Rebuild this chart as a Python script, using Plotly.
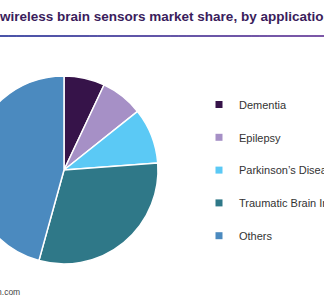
import plotly.graph_objects as go

# ---- data ----
categories = ["Dementia", "Epilepsy", "Parkinson\u2019s Disease", "Traumatic Brain Injury", "Others"]
shares = [7.0, 7.3, 9.5, 30.5, 45.7]
colors = ["#361349", "#a690c6", "#5bc9f5", "#2f7888", "#4b8abf"]
title_text = "U.S. wireless brain sensors market share, by application, 2016 (%)"
source_text = "Source: www.grandviewresearch.com"

W, H = 324, 300
PIE_OFFSET = 30     # the reference pie is cropped by the left window edge

fig = go.Figure()

# pie: radius 94, drawn with its left edge at x=0 then slid left by PIE_OFFSET
r, cy = 94, 170
fig.add_trace(go.Pie(
    labels=categories, values=shares, sort=False, direction="clockwise", rotation=0,
    marker=dict(colors=colors, line=dict(color="white", width=1.5)),
    textinfo="none", hoverinfo="label+percent", showlegend=False,
    domain=dict(x=[0, 2 * r / W], y=[(H - cy - r) / H, (H - cy + r) / H]),
))

# legend entries
for i, (c, col) in enumerate(zip(categories, colors)):
    fig.add_trace(go.Scatter(
        x=[None], y=[None], mode="markers", name=c, legendgroup=f"g{i}",
        marker=dict(symbol="square", size=7, color=col),
    ))

# gradient rule under the title
def hexrgb(h):
    return tuple(int(h[i:i + 2], 16) for i in (1, 3, 5))

c0, c1 = hexrgb("#4a54a8"), hexrgb("#7c57a7")
N = 40
shapes = []
for k in range(N):
    t = k / (N - 1)
    col = "rgb(%d,%d,%d)" % tuple(round(a + (b - a) * t) for a, b in zip(c0, c1))
    shapes.append(dict(type="line", xref="paper", yref="paper",
                       x0=k / N, x1=(k + 1) / N + 0.002, y0=1 - 36 / H, y1=1 - 36 / H,
                       line=dict(color=col, width=2)))

fig.update_layout(
    width=W, height=H,
    margin=dict(l=0, r=0, t=0, b=0, autoexpand=False),
    paper_bgcolor="white", plot_bgcolor="white",
    font=dict(family="Liberation Sans, Arial, sans-serif", color="#333333"),
    xaxis=dict(visible=False), yaxis=dict(visible=False),
    showlegend=True,
    legend=dict(x=199 / W, y=1 - 90 / H, xanchor="left", yanchor="top",
                font=dict(size=11, color="#333333"), tracegroupgap=13.8,
                bgcolor="rgba(0,0,0,0)"),
    shapes=shapes,
    annotations=[
        dict(text="<b>" + title_text + "</b>", xref="paper", yref="paper",
             x=-32 / W, y=1 - 16 / H, xanchor="left", yanchor="middle",
             showarrow=False, font=dict(size=13.5, color="#3a1d5c")),
        dict(text=source_text, xref="paper", yref="paper",
             x=22 / W, y=1 - 292 / H, xanchor="right", yanchor="middle",
             showarrow=False, font=dict(size=8.5, color="#444444")),
    ],
)

post = """
var d = document.getElementById('{plot_id}');
function slidePie() {
  var g = d.querySelector('.pielayer');
  if (g) { g.setAttribute('transform', 'translate(-%(O)d,0)'); }
}
slidePie();
if (d.on) { d.on('plotly_afterplot', slidePie); }
""" % {"O": PIE_OFFSET}
fig.write_html("out.html", post_script=post)
